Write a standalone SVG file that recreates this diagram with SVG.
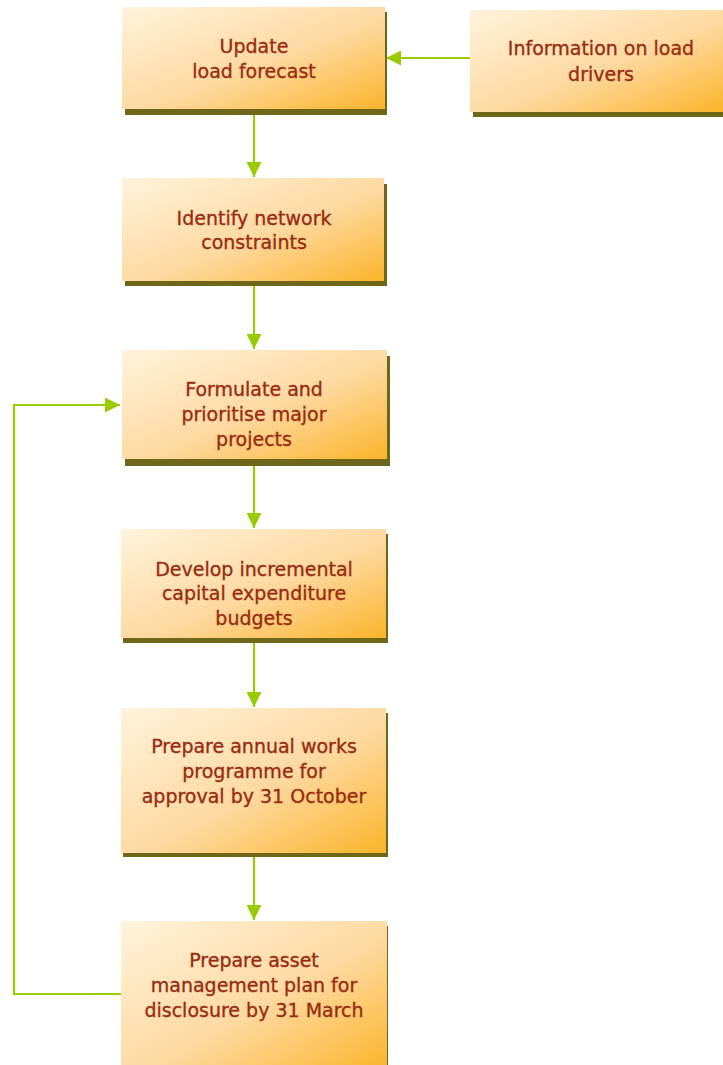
<svg xmlns="http://www.w3.org/2000/svg" width="723" height="1065" viewBox="0 0 723 1065">
<style>
.sh{fill:#6e6618}
.bx{fill:url(#g)}
.t{font-family:"DejaVu Sans",Verdana,sans-serif;font-size:19px;fill:#9a2c12;stroke:#9a2c12;stroke-width:0.35;text-anchor:middle}
.c{fill:none;stroke:#99cc00;stroke-width:2.2}
</style>
<defs>
<linearGradient id="g" x1="0" y1="0" x2="1" y2="1">
<stop offset="0" stop-color="#fff3dc"/>
<stop offset="0.55" stop-color="#fdd9a0"/>
<stop offset="1" stop-color="#fbb42a"/>
</linearGradient>
<marker id="a" markerUnits="userSpaceOnUse" markerWidth="15" markerHeight="15" refX="15" refY="7.5" orient="auto" viewBox="0 0 15 15">
<path d="M0,0 L15,7.5 L0,15 z" fill="#99cc00"/>
</marker>
</defs>
<g id="connectors">
<line class="c" x1="470" y1="58" x2="386" y2="58" marker-end="url(#a)"/>
<line class="c" x1="254" y1="110" x2="254" y2="177" marker-end="url(#a)"/>
<line class="c" x1="254" y1="282" x2="254" y2="349" marker-end="url(#a)"/>
<line class="c" x1="254" y1="460" x2="254" y2="528" marker-end="url(#a)"/>
<line class="c" x1="254" y1="639" x2="254" y2="707" marker-end="url(#a)"/>
<line class="c" x1="254" y1="854" x2="254" y2="920" marker-end="url(#a)"/>
<polyline class="c" points="121,994 14,994 14,405 120,405" marker-end="url(#a)"/>
</g>
<g id="n1">
<rect class="sh" x="125" y="12" width="262" height="103"/>
<rect class="bx" x="122" y="7" width="263" height="102"/>
<text class="t" x="254" y="53">Update</text>
<text class="t" x="254" y="78">load forecast</text>
</g>
<g id="n0">
<rect class="sh" x="473" y="15" width="253" height="102"/>
<rect class="bx" x="470" y="10" width="253" height="102"/>
<text class="t" x="601" y="55">Information on load</text>
<text class="t" x="601" y="81">drivers</text>
</g>
<g id="n2">
<rect class="sh" x="125" y="184" width="262" height="102"/>
<rect class="bx" x="122" y="178" width="262" height="103"/>
<text class="t" x="254" y="225">Identify network</text>
<text class="t" x="254" y="249">constraints</text>
</g>
<g id="n3">
<rect class="sh" x="125" y="356" width="265" height="110"/>
<rect class="bx" x="122" y="350" width="265" height="109"/>
<text class="t" x="254" y="396">Formulate and</text>
<text class="t" x="254" y="421">prioritise major</text>
<text class="t" x="254" y="446">projects</text>
</g>
<g id="n4">
<rect class="sh" x="123" y="534" width="265" height="109"/>
<rect class="bx" x="121" y="529" width="265" height="109"/>
<text class="t" x="254" y="576">Develop incremental</text>
<text class="t" x="254" y="600">capital expenditure</text>
<text class="t" x="254" y="625">budgets</text>
</g>
<g id="n5">
<rect class="sh" x="123" y="713" width="265" height="144"/>
<rect class="bx" x="121" y="708" width="265" height="145"/>
<text class="t" x="254" y="753">Prepare annual works</text>
<text class="t" x="254" y="778">programme for</text>
<text class="t" x="254" y="803">approval by 31 October</text>
</g>
<g id="n6">
<rect class="sh" x="123" y="926" width="265" height="150"/>
<rect class="bx" x="121" y="921" width="266" height="150"/>
<text class="t" x="254" y="967">Prepare asset</text>
<text class="t" x="254" y="992">management plan for</text>
<text class="t" x="254" y="1017">disclosure by 31 March</text>
</g>
</svg>
